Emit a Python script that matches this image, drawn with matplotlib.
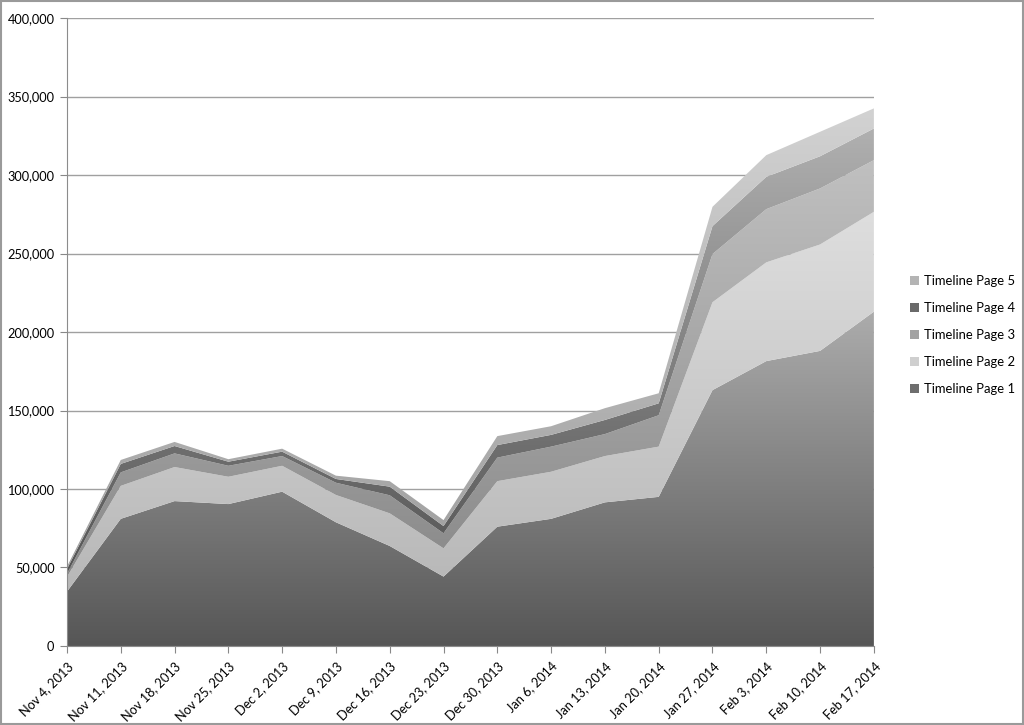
import numpy as np
import matplotlib
matplotlib.use('Agg')
import matplotlib.pyplot as plt
import matplotlib.colors as mcolors
from matplotlib.patches import PathPatch, Rectangle, Patch
from matplotlib.ticker import FuncFormatter

plt.rcParams['font.family'] = ['Lato', 'DejaVu Sans']

# weekly dates
dates = ['Nov 4, 2013', 'Nov 11, 2013', 'Nov 18, 2013', 'Nov 25, 2013',
         'Dec 2, 2013', 'Dec 9, 2013', 'Dec 16, 2013', 'Dec 23, 2013',
         'Dec 30, 2013', 'Jan 6, 2014', 'Jan 13, 2014', 'Jan 20, 2014',
         'Jan 27, 2014', 'Feb 3, 2014', 'Feb 10, 2014', 'Feb 17, 2014']

page1 = [34600, 81000, 92300, 90400, 98300, 78800, 63700, 44200,
         76000, 81000, 91500, 95000, 163000, 181500, 188000, 213000]
page2 = [9400, 21000, 21700, 17400, 16500, 17400, 20800, 18000,
         29000, 30000, 29500, 32000, 56000, 62900, 67800, 63600]
page3 = [2000, 8600, 8700, 7000, 6200, 7800, 11500, 9600,
         15000, 16000, 14000, 20000, 30700, 33900, 35700, 32900]
page4 = [3000, 5400, 4700, 2600, 2800, 2400, 5500, 4600,
         8000, 7500, 9000, 7600, 17800, 20600, 20500, 20200]
page5 = [1500, 2500, 2600, 1600, 1900, 2100, 3500, 3800,
         5700, 5500, 7500, 6400, 12300, 13800, 15600, 12800]

labels = ['Timeline Page 1', 'Timeline Page 2', 'Timeline Page 3',
          'Timeline Page 4', 'Timeline Page 5']

# gradient grey levels (bottom, top of each series' own range)
grads = [(86, 172), (178, 222), (128, 192), (70, 176), (150, 210)]
legend_cols = ['#6e6e6e', '#cfcfcf', '#a2a2a2', '#6a6a6a', '#b4b4b4']

series = [page1, page2, page3, page4, page5]
x = np.arange(len(dates))

fig = plt.figure(figsize=(10.24, 7.25), dpi=100)
ax = fig.add_axes([0.0654, 0.109, 0.788, 0.866])

lower = np.zeros(len(dates))
for s, (c0, c1) in zip(series, grads):
    upper = lower + np.array(s)
    poly = ax.fill_between(x, lower, upper, facecolor='none', edgecolor='none')
    patch = PathPatch(poly.get_paths()[0], transform=ax.transData,
                      facecolor='none', edgecolor='none')
    ax.add_patch(patch)
    cmap = mcolors.LinearSegmentedColormap.from_list(
        'g', [(c0/255,)*3, (c1/255,)*3])
    grad = np.linspace(0, 1, 256).reshape(-1, 1)
    im = ax.imshow(grad, extent=[0, 15, 0, upper.max()], origin='lower',
                   aspect='auto', cmap=cmap, zorder=2, interpolation='bilinear')
    im.set_clip_path(patch)
    lower = upper

ax.set_xlim(0, 15)
ax.set_ylim(0, 400000)
ax.set_yticks(np.arange(0, 400001, 50000))
ax.yaxis.set_major_formatter(FuncFormatter(lambda v, p: f'{int(v):,}'))
ax.set_xticks(x)
ax.set_xticklabels(dates, rotation=45, ha='right', rotation_mode='anchor')
ax.tick_params(axis='y', labelsize=9.2, color='#888888', length=5, pad=4)
ax.tick_params(axis='x', labelsize=9.2, color='#888888', length=5, pad=5)

ax.grid(axis='y', color='#a0a0a0', linewidth=1)
ax.set_axisbelow(True)
for side in ['top', 'right']:
    ax.spines[side].set_visible(False)
for side in ['left', 'bottom']:
    ax.spines[side].set_color('#8c8c8c')
    ax.spines[side].set_zorder(3)

handles = [Patch(facecolor=c, edgecolor='none') for c in legend_cols]
fig.legend(handles[::-1], labels[::-1], loc='center left',
           bbox_to_anchor=(0.877, 0.538), frameon=False, fontsize=9.4,
           handlelength=0.7, handleheight=0.7, handletextpad=0.4,
           labelspacing=1.15)

fig.patches.append(Rectangle((0.001, 0.001), 0.998, 0.998,
                             transform=fig.transFigure, fill=False,
                             edgecolor='#9a9a9a', linewidth=1.5))

plt.savefig('out.png', dpi=100)
